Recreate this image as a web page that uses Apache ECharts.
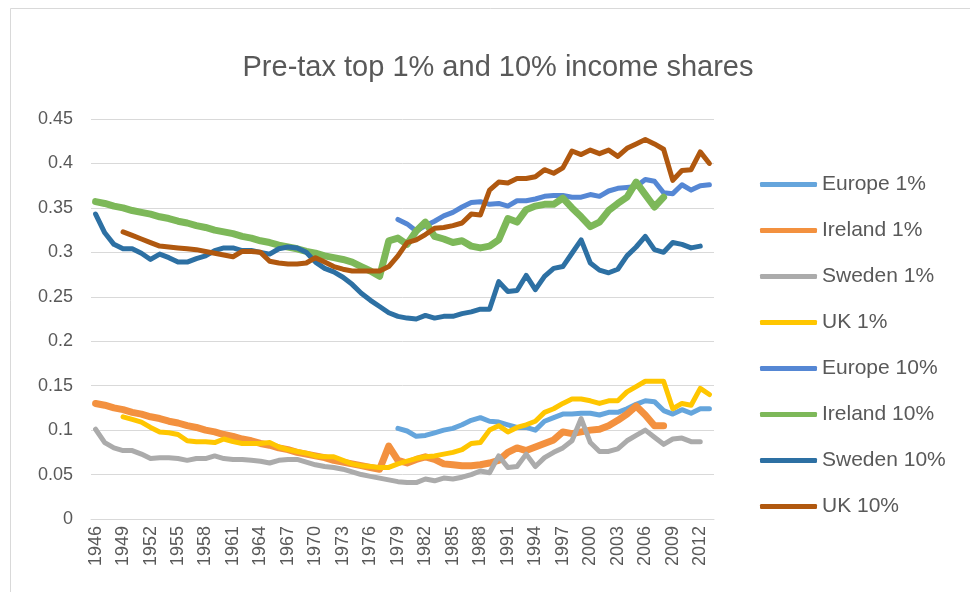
<!DOCTYPE html>
<html>
<head>
<meta charset="utf-8">
<title>Pre-tax top 1% and 10% income shares</title>
<script src="https://cdn.jsdelivr.net/npm/echarts@6/dist/echarts.min.js"></script>
<style>
  html, body { margin: 0; padding: 0; background: #fff; }
  #chart { width: 970px; height: 592px; }
</style>
</head>
<body>
<div id="chart"></div>
<script>
  // 年份 (category axis)
  const years = [
    '1946','1947','1948','1949','1950','1951','1952','1953','1954','1955',
    '1956','1957','1958','1959','1960','1961','1962','1963','1964','1965',
    '1966','1967','1968','1969','1970','1971','1972','1973','1974','1975',
    '1976','1977','1978','1979','1980','1981','1982','1983','1984','1985',
    '1986','1987','1988','1989','1990','1991','1992','1993','1994','1995',
    '1996','1997','1998','1999','2000','2001','2002','2003','2004','2005',
    '2006','2007','2008','2009','2010','2011','2012','2013'
  ]

  // top 1% shares, each list starts at its own first year
  const europe1Start = 1979
  const europe1 = [0.102,0.099,0.093,0.094,0.097,0.100,0.102,0.106,0.111,0.114,
    0.110,0.109,0.106,0.103,0.103,0.100,0.110,0.114,0.118,0.118,
    0.119,0.119,0.117,0.120,0.120,0.124,0.129,0.133,0.132,0.122,
    0.118,0.123,0.119,0.124,0.124]

  const ireland1Start = 1946
  const ireland1 = [0.130,0.128,0.125,0.123,0.120,0.118,0.115,0.113,0.110,0.108,
    0.105,0.103,0.100,0.098,0.095,0.093,0.090,0.088,0.085,0.083,
    0.080,0.078,0.075,0.073,0.071,0.069,0.066,0.064,0.062,0.060,
    0.058,0.056,0.082,0.066,0.063,0.067,0.070,0.067,0.062,0.061,
    0.060,0.060,0.061,0.063,0.066,0.075,0.080,0.077,0.081,0.085,
    0.089,0.098,0.096,0.098,0.100,0.101,0.105,0.111,0.118,0.127,
    0.117,0.105,0.105]

  const sweden1Start = 1946
  const sweden1 = [0.101,0.086,0.080,0.077,0.077,0.073,0.068,0.069,0.069,0.068,
    0.066,0.068,0.068,0.071,0.068,0.067,0.067,0.066,0.065,0.063,
    0.066,0.067,0.067,0.064,0.061,0.059,0.058,0.056,0.053,0.050,
    0.048,0.046,0.044,0.042,0.041,0.041,0.045,0.043,0.046,0.045,
    0.047,0.050,0.054,0.052,0.071,0.058,0.059,0.073,0.059,0.069,
    0.075,0.080,0.088,0.113,0.086,0.076,0.076,0.079,0.088,0.094,
    0.100,0.092,0.084,0.090,0.091,0.087,0.087]

  const uk1Start = 1949
  const uk1 = [0.115,0.112,0.109,0.103,0.098,0.097,0.095,0.088,0.087,0.087,
    0.086,0.090,0.087,0.085,0.085,0.085,0.086,0.081,0.078,0.076,
    0.074,0.071,0.070,0.070,0.066,0.062,0.060,0.059,0.058,0.058,
    0.062,0.065,0.068,0.070,0.071,0.073,0.075,0.078,0.085,0.086,
    0.100,0.105,0.098,0.103,0.106,0.110,0.120,0.124,0.130,0.135,
    0.135,0.133,0.130,0.133,0.133,0.143,0.149,0.155,0.155,0.155,
    0.124,0.130,0.128,0.147,0.140]

  // top 10% shares
  const europe10Start = 1979
  const europe10 = [0.337,0.332,0.324,0.330,0.335,0.341,0.345,0.351,0.356,0.357,
    0.354,0.355,0.352,0.358,0.358,0.360,0.363,0.364,0.364,0.362,
    0.362,0.365,0.363,0.369,0.372,0.373,0.374,0.382,0.380,0.367,
    0.366,0.376,0.370,0.375,0.376]

  const ireland10Start = 1946
  const ireland10 = [0.357,0.355,0.352,0.350,0.347,0.345,0.343,0.340,0.338,0.335,
    0.333,0.330,0.328,0.325,0.323,0.321,0.318,0.316,0.313,0.311,
    0.308,0.306,0.304,0.301,0.299,0.296,0.294,0.292,0.289,0.284,
    0.279,0.273,0.313,0.316,0.309,0.324,0.334,0.318,0.315,0.311,
    0.313,0.307,0.305,0.307,0.314,0.338,0.334,0.348,0.352,0.354,
    0.354,0.361,0.350,0.340,0.329,0.334,0.347,0.355,0.362,0.379,
    0.365,0.351,0.362]

  const sweden10Start = 1946
  const sweden10 = [0.343,0.322,0.309,0.304,0.304,0.299,0.292,0.298,0.294,0.289,
    0.289,0.293,0.296,0.302,0.305,0.305,0.302,0.302,0.300,0.298,
    0.304,0.306,0.305,0.300,0.289,0.282,0.278,0.272,0.264,0.254,
    0.246,0.239,0.232,0.228,0.226,0.225,0.229,0.226,0.228,0.228,
    0.231,0.233,0.236,0.236,0.267,0.256,0.257,0.274,0.258,0.273,
    0.282,0.284,0.299,0.314,0.288,0.280,0.277,0.281,0.296,0.306,
    0.318,0.303,0.300,0.311,0.309,0.305,0.307]

  const uk10Start = 1949
  const uk10 = [0.323,0.319,0.315,0.311,0.307,0.306,0.305,0.304,0.303,0.301,
    0.299,0.297,0.295,0.301,0.301,0.300,0.290,0.288,0.287,0.287,
    0.288,0.294,0.289,0.284,0.281,0.279,0.279,0.279,0.279,0.284,
    0.296,0.311,0.314,0.320,0.327,0.328,0.330,0.333,0.343,0.342,
    0.370,0.379,0.378,0.383,0.383,0.385,0.393,0.389,0.395,0.414,
    0.410,0.415,0.411,0.415,0.408,0.417,0.422,0.427,0.422,0.416,
    0.381,0.392,0.393,0.413,0.400]

  // 把每条序列按年份对齐 (前面补 null)
  const align = (start, values) => {
    let out = []
    for (let i = 0; i < years.length; i++) {
      let k = Number(years[i]) - start
      out.push(k >= 0 && k < values.length ? values[k] : null)
    }
    return out
  }

  const seriesDefs = [
    { name: 'Europe 1%', start: europe1Start, values: europe1, color: '#65A5DC', width: 5 },
    { name: 'Ireland 1%', start: ireland1Start, values: ireland1, color: '#F3913F', width: 7 },
    { name: 'Sweden 1%', start: sweden1Start, values: sweden1, color: '#ABABAB', width: 5 },
    { name: 'UK 1%', start: uk1Start, values: uk1, color: '#FFC600', width: 5 },
    { name: 'Europe 10%', start: europe10Start, values: europe10, color: '#5587D4', width: 5 },
    { name: 'Ireland 10%', start: ireland10Start, values: ireland10, color: '#7DB859', width: 7 },
    { name: 'Sweden 10%', start: sweden10Start, values: sweden10, color: '#2D70A3', width: 5 },
    { name: 'UK 10%', start: uk10Start, values: uk10, color: '#B0580F', width: 5 }
  ]

  const textColor = '#595959'
  const fontFamily = 'Liberation Sans, Arial, sans-serif'

  let myChart = echarts.init(document.getElementById('chart'), null, { renderer: 'canvas' })

  let option = {
    backgroundColor: '#fff',
    animation: false,
    color: seriesDefs.map(s => s.color),
    title: {
      text: 'Pre-tax top 1% and 10% income shares',
      left: 493,
      top: 48,
      textAlign: 'center',
      textStyle: { fontSize: 29, fontWeight: 'normal', color: textColor, fontFamily: fontFamily }
    },
    graphic: [{
      // outer chart frame
      type: 'rect',
      silent: true,
      shape: { x: 10.5, y: 8.5, width: 1000, height: 700 },
      style: { fill: 'none', stroke: '#D9D9D9', lineWidth: 1 }
    }],
    legend: {
      orient: 'vertical',
      left: 760,
      top: 174,
      padding: 0,
      itemGap: 25,
      itemWidth: 57,
      itemHeight: 5,
      icon: 'roundRect',
      textStyle: { fontSize: 21, color: textColor, fontFamily: fontFamily },
      data: seriesDefs.map(s => s.name)
    },
    grid: { left: 91, right: 256, top: 119, bottom: 73 },
    xAxis: {
      type: 'category',
      data: years,
      boundaryGap: true,
      axisLine: { lineStyle: { color: '#D9D9D9', width: 1 } },
      axisTick: { show: false },
      axisLabel: {
        interval: 2,
        rotate: 90,
        margin: 7,
        padding: [6, 0, 0, 0],
        fontSize: 18,
        color: textColor,
        fontFamily: fontFamily
      }
    },
    yAxis: {
      type: 'value',
      min: 0,
      max: 0.45,
      interval: 0.05,
      axisLine: { show: false },
      axisTick: { show: false },
      splitLine: { lineStyle: { color: '#D9D9D9', width: 1 } },
      axisLabel: { fontSize: 18, color: textColor, margin: 18, fontFamily: fontFamily }
    },
    series: seriesDefs.map(s => ({
      name: s.name,
      type: 'line',
      data: align(s.start, s.values),
      showSymbol: false,
      symbol: 'none',
      connectNulls: false,
      lineStyle: { width: s.width, color: s.color, cap: 'round', join: 'round' }
    }))
  }

  myChart.setOption(option)
  window.addEventListener('resize', myChart.resize)
</script>
</body>
</html>
